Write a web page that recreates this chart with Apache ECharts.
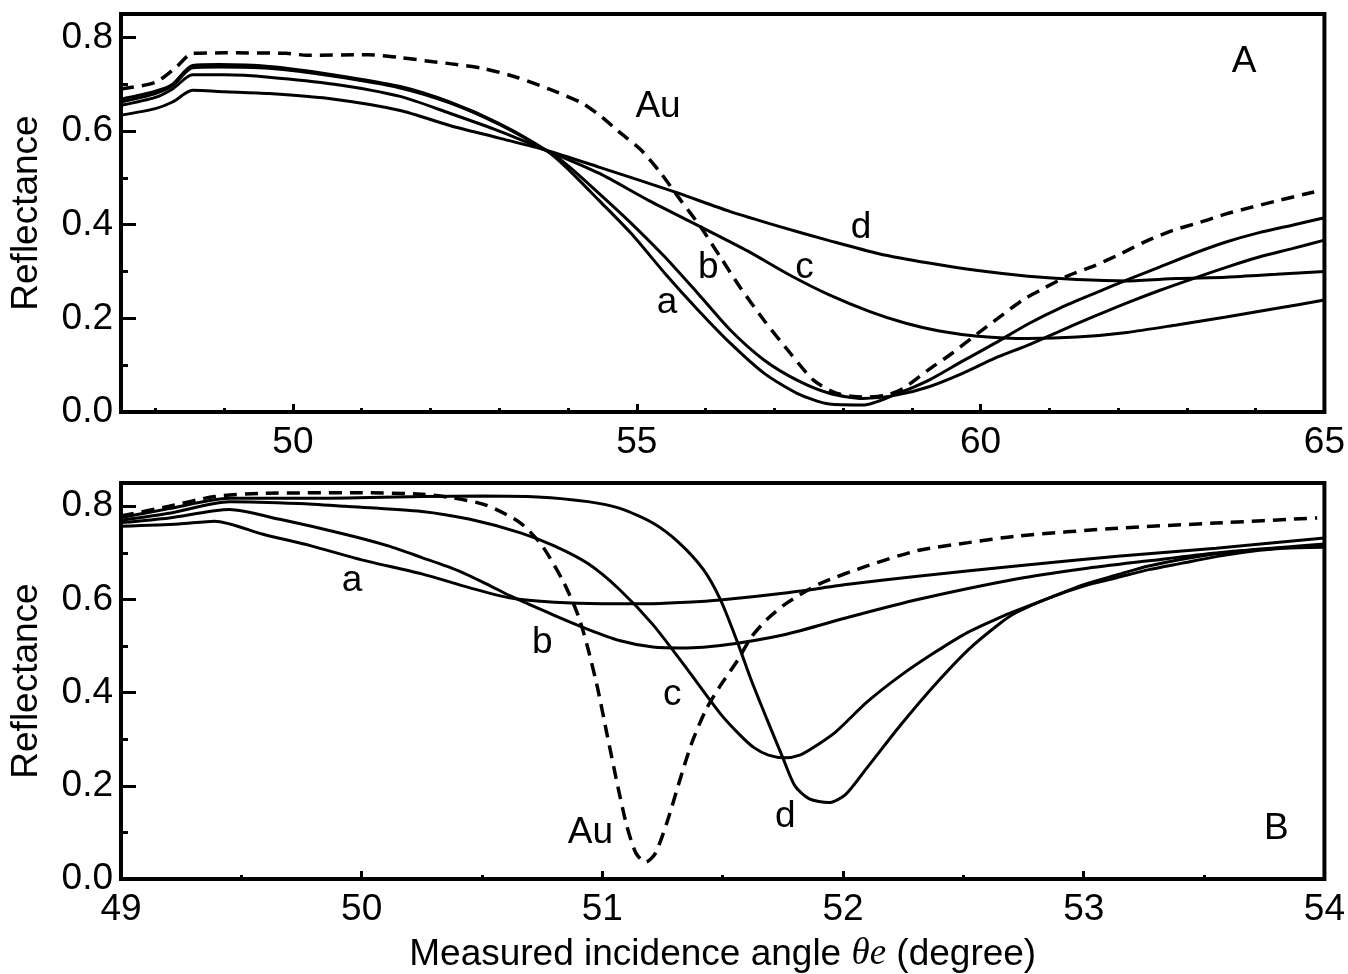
<!DOCTYPE html>
<html>
<head>
<meta charset="utf-8">
<script src="https://cdn.jsdelivr.net/npm/echarts@6/dist/echarts.min.js"></script>
<style>
  html, body { margin: 0; padding: 0; background: #fff; }
  #chart { width: 1348px; height: 974px; }
</style>
</head>
<body>
<div id="chart"></div>
<script>
// ---- Tick values ----
const topXTicks = [50, 55, 60, 65];
const topXMinor = [48, 49, 51, 52, 53, 54, 56, 57, 58, 59, 61, 62, 63, 64];
const bottomXTicks = [49, 50, 51, 52, 53, 54];
const bottomXMinor = [49.5, 50.5, 51.5, 52.5, 53.5];
const yTicks = [0, 0.2, 0.4, 0.6, 0.8];
const yMinor = [0.1, 0.3, 0.5, 0.7];

// ---- Panel A: reflectance vs angle (degree) ----
const topAu = [[47.5,0.690],[48.0,0.704],[48.3,0.736],[48.54,0.766],[49.0,0.767],[49.9,0.766],[50.2,0.762],[51.1,0.763],[51.56,0.757],[52.04,0.748],[52.28,0.744],[52.76,0.734],[53.25,0.715],[53.72,0.69],[54.2,0.66],[54.49,0.63],[54.73,0.60],[55.06,0.56],[55.35,0.51],[55.64,0.452],[55.93,0.395],[56.22,0.33],[56.5,0.267],[56.85,0.196],[57.23,0.126],[57.57,0.068],[57.9,0.04],[58.29,0.032],[58.6,0.035],[58.87,0.05],[59.24,0.09],[59.59,0.126],[59.96,0.168],[60.25,0.20],[60.6,0.238],[60.89,0.262],[61.26,0.29],[61.65,0.312],[62.04,0.338],[62.41,0.365],[62.8,0.388],[63.19,0.405],[63.57,0.423],[63.96,0.438],[64.34,0.452],[64.85,0.47]];
const topA = [[47.5,0.668],[48.0,0.685],[48.25,0.70],[48.54,0.74],[48.93,0.742],[49.65,0.738],[50.6,0.72],[51.56,0.695],[52.28,0.662],[53.0,0.616],[53.68,0.559],[53.97,0.523],[54.45,0.452],[54.92,0.381],[55.41,0.296],[55.89,0.218],[56.36,0.147],[56.85,0.083],[57.33,0.04],[57.8,0.017],[58.29,0.015],[58.77,0.038],[59.25,0.068],[59.73,0.108],[60.21,0.147],[60.69,0.188],[61.17,0.223],[61.65,0.253],[62.13,0.282],[62.61,0.31],[63.09,0.338],[63.57,0.363],[64.05,0.383],[64.53,0.399],[65.0,0.415]];
const topB = [[47.5,0.662],[48.0,0.680],[48.25,0.697],[48.54,0.735],[48.93,0.737],[49.65,0.734],[50.6,0.717],[51.56,0.692],[52.28,0.66],[53.0,0.614],[53.68,0.559],[53.97,0.53],[54.45,0.467],[54.92,0.403],[55.41,0.331],[55.89,0.253],[56.36,0.175],[56.85,0.111],[57.33,0.068],[57.8,0.04],[58.29,0.029],[58.77,0.036],[59.25,0.054],[59.73,0.082],[60.21,0.115],[60.69,0.143],[61.17,0.174],[61.65,0.204],[62.13,0.233],[62.61,0.26],[63.09,0.285],[63.57,0.309],[64.05,0.331],[64.53,0.349],[65.0,0.367]];
const topC = [[47.5,0.655],[48.0,0.672],[48.25,0.69],[48.54,0.72],[49.0,0.72],[49.65,0.715],[50.6,0.70],[51.56,0.674],[52.28,0.638],[53.0,0.60],[53.68,0.559],[54.45,0.51],[55.17,0.452],[56.03,0.388],[56.61,0.344],[57.23,0.292],[57.8,0.25],[58.38,0.215],[58.9,0.19],[59.4,0.173],[59.96,0.162],[60.69,0.157],[61.4,0.16],[62.13,0.17],[62.85,0.186],[63.57,0.203],[64.29,0.221],[65.0,0.239]];
const topD = [[47.5,0.634],[48.0,0.648],[48.25,0.662],[48.54,0.687],[49.0,0.684],[49.65,0.68],[50.6,0.668],[51.56,0.644],[52.28,0.612],[53.0,0.585],[53.68,0.559],[54.45,0.523],[55.55,0.47],[56.36,0.428],[57.08,0.396],[57.8,0.366],[58.52,0.338],[59.25,0.318],[59.96,0.302],[60.69,0.29],[61.4,0.283],[62.13,0.28],[62.85,0.285],[63.57,0.288],[64.3,0.294],[65.0,0.30]];

// ---- Panel B ----
const botAu = [[49.0,0.779],[49.2,0.80],[49.39,0.821],[49.6,0.828],[50.0,0.829],[50.25,0.826],[50.38,0.818],[50.52,0.802],[50.66,0.764],[50.75,0.715],[50.84,0.636],[50.9,0.565],[50.94,0.495],[50.98,0.41],[51.02,0.309],[51.06,0.209],[51.1,0.117],[51.14,0.055],[51.18,0.036],[51.22,0.055],[51.27,0.124],[51.32,0.209],[51.37,0.29],[51.43,0.363],[51.49,0.415],[51.56,0.468],[51.62,0.52],[51.69,0.56],[51.76,0.59],[51.9,0.633],[52.1,0.672],[52.31,0.705],[52.52,0.722],[52.72,0.736],[53.14,0.753],[53.55,0.764],[53.97,0.775]];
const botA = [[49.0,0.757],[49.24,0.762],[49.39,0.768],[49.59,0.74],[49.79,0.715],[50.0,0.685],[50.25,0.655],[50.45,0.625],[50.62,0.603],[50.8,0.594],[51.0,0.591],[51.2,0.591],[51.35,0.594],[51.49,0.599],[51.76,0.614],[52.03,0.633],[52.31,0.65],[52.72,0.672],[53.14,0.693],[53.55,0.71],[54.0,0.732]];
const botB = [[49.0,0.765],[49.2,0.775],[49.45,0.793],[49.66,0.772],[49.93,0.74],[50.11,0.715],[50.25,0.69],[50.4,0.662],[50.52,0.633],[50.62,0.607],[50.8,0.566],[50.94,0.536],[51.07,0.512],[51.21,0.498],[51.35,0.496],[51.49,0.501],[51.76,0.525],[52.03,0.563],[52.31,0.6],[52.72,0.644],[53.0,0.666],[53.27,0.683],[53.55,0.70],[54.0,0.719]];
const botC = [[49.0,0.77],[49.2,0.785],[49.45,0.81],[49.74,0.806],[49.93,0.80],[50.25,0.789],[50.45,0.772],[50.66,0.743],[50.8,0.715],[50.94,0.677],[51.07,0.622],[51.21,0.546],[51.35,0.452],[51.49,0.355],[51.57,0.31],[51.63,0.282],[51.69,0.266],[51.76,0.26],[51.82,0.266],[51.87,0.28],[51.97,0.316],[52.1,0.38],[52.24,0.437],[52.38,0.486],[52.52,0.53],[52.65,0.561],[52.72,0.576],[52.86,0.604],[53.0,0.632],[53.14,0.653],[53.27,0.672],[53.55,0.698],[53.83,0.711],[54.0,0.715]];
const botD = [[49.0,0.776],[49.2,0.795],[49.45,0.817],[49.79,0.817],[50.25,0.821],[50.5,0.822],[50.73,0.82],[50.94,0.81],[51.07,0.796],[51.21,0.764],[51.32,0.721],[51.42,0.664],[51.49,0.6],[51.56,0.51],[51.62,0.425],[51.69,0.335],[51.75,0.26],[51.8,0.2],[51.86,0.172],[51.94,0.164],[52.01,0.181],[52.1,0.239],[52.24,0.331],[52.38,0.416],[52.52,0.492],[52.65,0.548],[52.72,0.572],[52.86,0.604],[53.0,0.629],[53.14,0.647],[53.27,0.664],[53.41,0.678],[53.55,0.692],[53.69,0.703],[53.83,0.71],[54.0,0.712]];

// ---- Curve and panel labels (data coordinates) ----
const topLabels = [
  { name: 'Au', value: [55.31, 0.651] },
  { name: 'a', value: [55.44, 0.233] },
  { name: 'b', value: [56.04, 0.307] },
  { name: 'c', value: [57.44, 0.307] },
  { name: 'd', value: [58.26, 0.393] },
  { name: 'A', value: [63.83, 0.747] }
];
const bottomLabels = [
  { name: 'a', value: [49.96, 0.640] },
  { name: 'b', value: [50.75, 0.508] },
  { name: 'c', value: [51.29, 0.395] },
  { name: 'd', value: [51.76, 0.134] },
  { name: 'Au', value: [50.95, 0.100] },
  { name: 'B', value: [53.80, 0.107] }
];

const FONT = '"Liberation Sans", Arial, Helvetica, sans-serif';
const FS = 37;

function xAxisMajor(grid, min, max, ticks, extra) {
  return Object.assign({
    type: 'value', gridIndex: grid, min: min, max: max, position: 'bottom',
    axisLine: { show: false },
    splitLine: { show: false },
    axisTick: { show: true, inside: true, length: 8, customValues: ticks,
                lineStyle: { color: '#000', width: 3 } },
    axisLabel: { show: true, customValues: ticks, margin: 12,
                 color: '#000', fontFamily: FONT, fontSize: FS }
  }, extra || {});
}
function xAxisMinor(grid, min, max, ticks) {
  return {
    type: 'value', gridIndex: grid, min: min, max: max, position: 'bottom',
    axisLine: { show: false },
    splitLine: { show: false },
    axisTick: { show: true, inside: true, length: 4, customValues: ticks,
                lineStyle: { color: '#000', width: 3 } },
    axisLabel: { show: false }
  };
}
function yAxisMajor(grid) {
  return {
    type: 'value', gridIndex: grid, min: 0, max: 0.85, position: 'left',
    name: 'Reflectance', nameLocation: 'middle', nameGap: 76, nameRotate: 90,
    nameTextStyle: { color: '#000', fontFamily: FONT, fontSize: FS },
    axisLine: { show: false },
    splitLine: { show: false },
    axisTick: { show: true, inside: true, length: 15, customValues: yTicks,
                lineStyle: { color: '#000', width: 3 } },
    axisLabel: { show: true, customValues: yTicks, margin: 8,
                 formatter: v => v.toFixed(1),
                 color: '#000', fontFamily: FONT, fontSize: FS }
  };
}
function yAxisMinor(grid) {
  return {
    type: 'value', gridIndex: grid, min: 0, max: 0.85, position: 'left',
    axisLine: { show: false },
    splitLine: { show: false },
    axisTick: { show: true, inside: true, length: 7, customValues: yMinor,
                lineStyle: { color: '#000', width: 3 } },
    axisLabel: { show: false }
  };
}

function curve(data, xi, yi, dashed) {
  return {
    type: 'line', data: data, xAxisIndex: xi, yAxisIndex: yi,
    showSymbol: false, smooth: 0.25, silent: true, clip: true,
    lineStyle: dashed ? { color: '#000', width: 3.5, type: [13, 8] }
                      : { color: '#000', width: 3 }
  };
}
function labelSeries(data, xi, yi) {
  return {
    type: 'scatter', data: data, xAxisIndex: xi, yAxisIndex: yi,
    symbolSize: 0, silent: true,
    itemStyle: { opacity: 1 },
    label: { show: true, position: 'inside', formatter: '{b}',
             color: '#000', opacity: 1, textBorderWidth: 0,
             fontFamily: FONT, fontSize: FS }
  };
}

const chart = echarts.init(document.getElementById('chart'), null, { renderer: 'canvas' });
chart.setOption({
  animation: false,
  backgroundColor: '#fff',
  grid: [
    { left: 118, top: 14, width: 1211, height: 398, show: true,
      borderColor: '#000', borderWidth: 4, backgroundColor: 'transparent' },
    { left: 118, top: 483, width: 1211, height: 400, show: true,
      borderColor: '#000', borderWidth: 4, backgroundColor: 'transparent' }
  ],
  xAxis: [
    xAxisMajor(0, 47.5, 65, topXTicks),
    xAxisMinor(0, 47.5, 65, topXMinor),
    xAxisMajor(1, 49, 54, bottomXTicks, {
      name: 'Measured incidence angle {it|θe} (degree)',
      nameLocation: 'middle', nameGap: 57,
      nameTextStyle: { color: '#000', fontFamily: FONT, fontSize: FS,
        rich: { it: { fontFamily: '"Liberation Serif", "DejaVu Serif", serif',
                      fontStyle: 'italic', fontSize: FS, color: '#000' } } }
    }),
    xAxisMinor(1, 49, 54, bottomXMinor)
  ],
  yAxis: [ yAxisMajor(0), yAxisMinor(0), yAxisMajor(1), yAxisMinor(1) ],
  series: [
    curve(topAu, 0, 0, true),
    curve(topA, 0, 0), curve(topB, 0, 0), curve(topC, 0, 0), curve(topD, 0, 0),
    labelSeries(topLabels, 0, 0),
    curve(botAu, 2, 2, true),
    curve(botA, 2, 2), curve(botB, 2, 2), curve(botC, 2, 2), curve(botD, 2, 2),
    labelSeries(bottomLabels, 2, 2)
  ]
});
</script>
</body>
</html>
